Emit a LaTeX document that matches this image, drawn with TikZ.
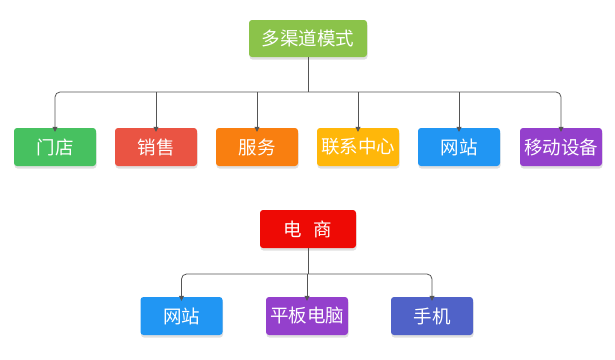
\documentclass[tikz,border=0pt]{standalone}
\usepackage{fontspec}
\newfontfamily\cjk{Noto Sans CJK SC}
\usetikzlibrary{shadows,arrows.meta}
\definecolor{cTop}{HTML}{8BC34A}
\definecolor{cGreen}{HTML}{47C160}
\definecolor{cRed}{HTML}{EA5443}
\definecolor{cOrange}{HTML}{F97F10}
\definecolor{cAmber}{HTML}{FFB70A}
\definecolor{cBlue}{HTML}{2196F3}
\definecolor{cPurple}{HTML}{9440CC}
\definecolor{cEc}{HTML}{EE0A05}
\definecolor{cIndigo}{HTML}{5062C8}
\definecolor{cLine}{HTML}{555555}
\tikzset{
  box/.style={rectangle, rounded corners=3pt, minimum width=82pt, minimum height=38pt,
    inner sep=0pt, text=white, font=\cjk\fontsize{18.5}{22}\selectfont,
    drop shadow={shadow xshift=0.5pt, shadow yshift=-2.5pt, fill=black!12, opacity=1}},
  tip/.tip={Triangle[length=5pt,width=5pt]},
  conn/.style={draw=cLine, line width=0.8pt, -tip},
  span/.style={draw=cLine, line width=0.8pt, rounded corners=5pt, tip-tip},
  trunk/.style={draw=cLine, line width=0.8pt}
}
\begin{document}
\begin{tikzpicture}[x=1pt,y=-1pt]
\useasboundingbox (0,0) rectangle (615,359);
% top group
\node[box, fill=cTop, minimum width=118pt, minimum height=37pt] (top) at (308,38.5) {多渠道模式};
\node[box, fill=cGreen] (a1) at (55,147) {门店};
\node[box, fill=cRed] (a2) at (156,147) {销售};
\node[box, fill=cOrange] (a3) at (257,147) {服务};
\node[box, fill=cAmber] (a4) at (358,147) {联系中心};
\node[box, fill=cBlue] (a5) at (459,147) {网站};
\node[box, fill=cPurple] (a6) at (561,147) {移动设备};
\coordinate (j1) at (308,92);
\draw[trunk] (top.south) -- (j1);
\draw[span] ([yshift=-4pt]a1.north) |- (j1) -| ([yshift=-4pt]a6.north);
\foreach \n in {a2,a3,a4,a5}
  \draw[conn] (\n.north |- j1) -- ([yshift=-4pt]\n.north);
% bottom group
\node[box, fill=cEc, minimum width=96pt] (ec) at (308,229) {电\hspace{0.6em}商};
\node[box, fill=cBlue] (b1) at (181.5,316) {网站};
\node[box, fill=cPurple] (b2) at (307,316) {平板电脑};
\node[box, fill=cIndigo] (b3) at (432,316) {手机};
\coordinate (j2) at (308,274);
\draw[trunk] (ec.south) -- (j2);
\draw[span] ([yshift=-4pt]b1.north) |- (j2) -| ([yshift=-4pt]b3.north);
\draw[conn] (b2.north |- j2) -- ([yshift=-4pt]b2.north);
\end{tikzpicture}
\end{document}
